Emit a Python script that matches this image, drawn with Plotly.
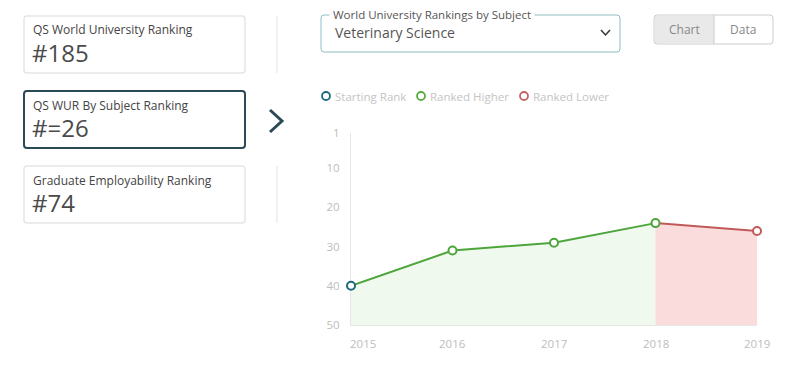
import plotly.graph_objects as go

years = [2015, 2016, 2017, 2018, 2019]
ranks = [40, 31, 29, 24, 26]
y_ticks = [1, 10, 20, 30, 40, 50]
rank_floor = 50

cards = [("QS World University Ranking", "#185"),
         ("QS WUR By Subject Ranking", "#=26"),
         ("Graduate Employability Ranking", "#74")]
legend_items = [("Starting Rank", "#1d6a7e"), ("Ranked Higher", "#5aab45"), ("Ranked Lower", "#c26464")]

GREEN = "#4ea53c"
RED = "#c05a5a"
TEAL = "#1d6a7e"
FONT = "Open Sans"

W, H = 796, 370
L, R, T, B = 351, 757, 133, 325


def px(x):
    return (x - L) / (R - L)


def py(y):
    return 1 - (y - T) / (B - T)


fig = go.Figure()

g_years = years[:4]
g_ranks = ranks[:4]
r_years = years[3:]
r_ranks = ranks[3:]

fig.add_trace(go.Scatter(x=g_years, y=[rank_floor] * len(g_years), mode="lines",
                         line=dict(width=0), hoverinfo="skip", showlegend=False))
fig.add_trace(go.Scatter(x=g_years, y=g_ranks, mode="lines", fill="tonexty",
                         fillcolor="#eff9ee", line=dict(color=GREEN, width=2),
                         hoverinfo="skip", showlegend=False))
fig.add_trace(go.Scatter(x=r_years, y=[rank_floor] * len(r_years), mode="lines",
                         line=dict(width=0), hoverinfo="skip", showlegend=False))
fig.add_trace(go.Scatter(x=r_years, y=r_ranks, mode="lines", fill="tonexty",
                         fillcolor="#fadcdc", line=dict(color=RED, width=2),
                         hoverinfo="skip", showlegend=False))

mcolors = [TEAL] + [GREEN if ranks[i] <= ranks[i - 1] else RED for i in range(1, len(ranks))]
fig.add_trace(go.Scatter(x=years, y=ranks, mode="markers",
                         marker=dict(symbol="circle", size=8, color="white",
                                     line=dict(color=mcolors, width=2)),
                         showlegend=False, cliponaxis=False))


def rrect(x0, y0, x1, y1, r=3):
    return (f"M {px(x0 + r)} {py(y0)} L {px(x1 - r)} {py(y0)} Q {px(x1)} {py(y0)} {px(x1)} {py(y0 + r)} "
            f"L {px(x1)} {py(y1 - r)} Q {px(x1)} {py(y1)} {px(x1 - r)} {py(y1)} "
            f"L {px(x0 + r)} {py(y1)} Q {px(x0)} {py(y1)} {px(x0)} {py(y1 - r)} "
            f"L {px(x0)} {py(y0 + r)} Q {px(x0)} {py(y0)} {px(x0 + r)} {py(y0)} Z")


shapes = []
annotations = []

card_tops = [16, 91, 166]
for (title, val), top in zip(cards, card_tops):
    selected = title.startswith("QS WUR")
    shapes.append(dict(type="path", xref="paper", yref="paper",
                       path=rrect(24, top, 245, top + 57, 3),
                       line=dict(color="#2a4a55" if selected else "#e6e6e6",
                                 width=2 if selected else 1.5),
                       fillcolor="white", layer="below"))
    annotations.append(dict(xref="paper", yref="paper", x=px(31), y=py(top + 14),
                            text=title, showarrow=False, xanchor="left", yanchor="middle",
                            font=dict(family=FONT, size=12, color="#444")))
    annotations.append(dict(xref="paper", yref="paper", x=px(30), y=py(top + 36),
                            text=val, showarrow=False, xanchor="left", yanchor="middle",
                            font=dict(family=FONT, size=24, color="#4a4a4a")))
    if not selected:
        shapes.append(dict(type="line", xref="paper", yref="paper",
                           x0=px(277), x1=px(277), y0=py(top), y1=py(top + 57),
                           line=dict(color="#ececec", width=1.5)))

shapes.append(dict(type="path", xref="paper", yref="paper",
                   path=f"M {px(270)} {py(110)} L {px(282)} {py(121)} L {px(270)} {py(132)}",
                   line=dict(color="#2a4a55", width=3)))

# dropdown
shapes.append(dict(type="path", xref="paper", yref="paper",
                   path=rrect(321, 15, 620, 52, 3),
                   line=dict(color="#8fbfc2", width=1)))
annotations.append(dict(xref="paper", yref="paper", x=px(329), y=py(14),
                        text="World University Rankings by Subject", showarrow=False,
                        xanchor="left", yanchor="middle", bgcolor="white", borderpad=3,
                        font=dict(family=FONT, size=11.5, color="#555")))
annotations.append(dict(xref="paper", yref="paper", x=px(333), y=py(32),
                        text="Veterinary Science", showarrow=False,
                        xanchor="left", yanchor="middle",
                        font=dict(family=FONT, size=14, color="#555")))
shapes.append(dict(type="path", xref="paper", yref="paper",
                   path=f"M {px(601)} {py(30)} L {px(605.5)} {py(35)} L {px(610)} {py(30)}",
                   line=dict(color="#333", width=1.5)))

# toggle
shapes.append(dict(type="path", xref="paper", yref="paper",
                   path=rrect(654, 15, 773, 44, 3),
                   line=dict(width=0), fillcolor="white"))
shapes.append(dict(type="rect", xref="paper", yref="paper",
                   x0=px(655), x1=px(714), y0=py(16), y1=py(43),
                   line=dict(width=0), fillcolor="#e9e9e9"))
shapes.append(dict(type="path", xref="paper", yref="paper",
                   path=rrect(654, 15, 773, 44, 3),
                   line=dict(color="#cccccc", width=1)))
shapes.append(dict(type="line", xref="paper", yref="paper",
                   x0=px(714), x1=px(714), y0=py(15), y1=py(44),
                   line=dict(color="#cccccc", width=1)))
annotations.append(dict(xref="paper", yref="paper", x=px(684), y=py(29), text="Chart",
                        xanchor="center", yanchor="middle",
                        showarrow=False, font=dict(family=FONT, size=12, color="#888")))
annotations.append(dict(xref="paper", yref="paper", x=px(743), y=py(29), text="Data",
                        xanchor="center", yanchor="middle",
                        showarrow=False, font=dict(family=FONT, size=12, color="#888")))

# legend
leg_x = [326, 421, 524]
for (name, col), lx in zip(legend_items, leg_x):
    shapes.append(dict(type="circle", xref="paper", yref="paper",
                       x0=px(lx - 4), x1=px(lx + 4), y0=py(92), y1=py(100),
                       line=dict(color=col, width=1.8), fillcolor="white"))
    annotations.append(dict(xref="paper", yref="paper", x=px(lx + 7), y=py(96),
                            text=name, showarrow=False, xanchor="left", yanchor="middle",
                            font=dict(family=FONT, size=11.5, color="#c4c4c4")))

for i, yr in enumerate(years):
    annotations.append(dict(xref="x", yref="paper", x=yr, y=py(343), text=str(yr),
                            showarrow=False, xshift=12 if i == 0 else 0,
                            xanchor="center", yanchor="middle",
                            font=dict(family=FONT, size=11.5, color="#bdbdbd")))

fig.update_layout(
    width=W, height=H,
    margin=dict(l=L, r=W - R, t=T, b=H - B),
    paper_bgcolor="white", plot_bgcolor="white",
    showlegend=False,
    shapes=shapes, annotations=annotations,
    xaxis=dict(range=[2015, 2019], showgrid=False, zeroline=False, showticklabels=False,
               showline=True, linecolor="#e6e6e6", linewidth=1, fixedrange=True,
               layer="below traces"),
    yaxis=dict(range=[50, 1], tickvals=y_ticks, ticktext=[str(v) for v in y_ticks],
               showgrid=False, zeroline=False, showline=True, linecolor="#e6e6e6",
               linewidth=1, ticks="", ticklabelstandoff=8, layer="below traces",
               tickfont=dict(family=FONT, size=11.5, color="#bdbdbd"), fixedrange=True),
)

fig.write_html("out.html")
